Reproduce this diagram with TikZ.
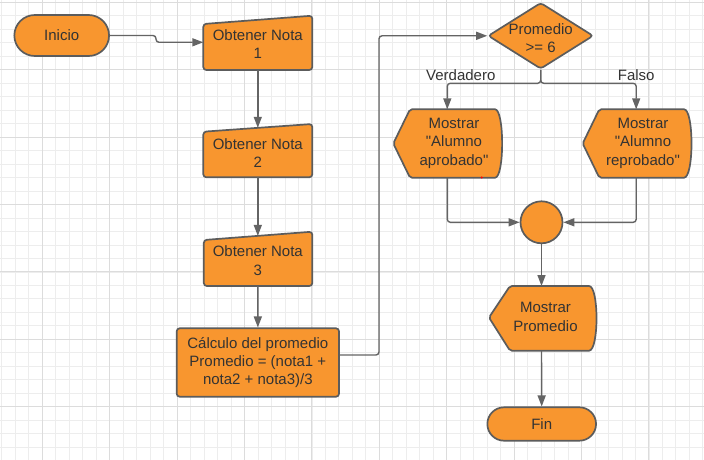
\documentclass[tikz,border=0pt]{standalone}
\usepackage{fontspec}
\setmainfont{Liberation Sans}[Ligatures=TeXOff]
\usetikzlibrary{arrows.meta,shapes.geometric,shapes.misc}
\definecolor{orng}{HTML}{F8962F}
\definecolor{bord}{HTML}{5C5C5C}
\definecolor{conn}{HTML}{646464}
\definecolor{txtc}{HTML}{333333}
\definecolor{gminor}{HTML}{EDEDED}
\definecolor{gmajor}{HTML}{DCDCDC}
\begin{document}
\begin{tikzpicture}[x=1pt,y=-1pt,
  shapebox/.style={fill=orng, draw=bord, line width=1.7pt, rounded corners=3pt},
  txt/.style={text=txtc, font=\fontsize{15}{18.3}\selectfont, align=center, inner sep=0pt},
  term/.style={rounded rectangle, fill=orng, draw=bord, line width=1.7pt, inner sep=0pt, txt},
  conline/.style={draw=conn, line width=1.4pt, rounded corners=3pt, -{Triangle[length=11pt,width=8pt]}},
]
\useasboundingbox (0,0) rectangle (704,460);
\fill[white] (0,0) rectangle (704,460);
% grid
\foreach \i in {0,...,52} { \draw[gminor, line width=0.8pt] ({1.86+\i*13.48},0) -- ++(0,460); }
\foreach \i in {0,...,34} { \draw[gminor, line width=0.8pt] (0,{2.3+\i*13.48}) -- ++(704,0); }
\foreach \i in {0,...,9} { \draw[gmajor, line width=0.9pt] ({42.3+\i*67.4},0) -- ++(0,460); }
\foreach \i in {0,...,6} { \draw[gmajor, line width=0.9pt] (0,{2.3+\i*67.4}) -- ++(704,0); }

% Inicio
\node[term, minimum width=94.7pt, minimum height=41pt] (ini) at (61.7,35.5) {Inicio};

% Obtener Nota 1
\draw[shapebox] (203.3,24) -- (312.3,15.7) -- (312.3,70) -- (203.3,70) -- cycle;
\node[txt] (n1) at (257.8,44.2) {Obtener Nota\\1};
\coordinate (n1in) at (203.3,42.3);
\coordinate (n1out) at (257.8,70);

% Obtener Nota 2
\draw[shapebox] (203.3,131.7) -- (312.3,124) -- (312.3,177.3) -- (203.3,177.3) -- cycle;
\node[txt] (n2) at (257.8,152.8) {Obtener Nota\\2};
\coordinate (n2in) at (257.8,127.8);
\coordinate (n2out) at (257.8,177.3);

% Obtener Nota 3
\draw[shapebox] (203.8,240) -- (312.3,231.7) -- (312.3,286) -- (203.8,286) -- cycle;
\node[txt] (n3) at (257.8,260.5) {Obtener Nota\\3};
\coordinate (n3in) at (257.8,235.9);
\coordinate (n3out) at (257.8,286);

% Calculo
\node[shapebox, rectangle, minimum width=162.3pt, minimum height=68.4pt, txt] (calc) at (257.85,362.5)
  {Cálculo del promedio\\Promedio = (nota1 +\\nota2 + nota3)/3};

% Decision
\node[diamond, shapebox, minimum width=105.3pt, minimum height=66.3pt, inner sep=0pt] (dia) at (540.7,35.8) {};
\node[txt] (diat) at (540.7,37.8) {Promedio\\>= 6};
\coordinate (jog) at (379,35.8);
\coordinate (split) at (540.7,83.3);
\node[txt] (lv) at (460.8,75.3) {Verdadero};
\node[txt] (lf) at (636.2,75.3) {Falso};

% Mostrar aprobado
\draw[shapebox, rounded corners=2pt] (393.3,143.5) -- (410,109.3) -- (493,109.3)
  .. controls (504.5,109.3) and (504.5,177.7) .. (493,177.7) -- (410,177.7) -- cycle;
\node[txt] (aprt) at (454,143.3) {Mostrar\\"Alumno\\aprobado"};
\coordinate (aprin) at (447.3,109.3);
\coordinate (aprout) at (447.3,177.7);

% Mostrar reprobado
\draw[shapebox, rounded corners=2pt] (582.7,143.5) -- (599.3,109.3) -- (682,109.3)
  .. controls (694,109.3) and (694,177.7) .. (682,177.7) -- (599.3,177.7) -- cycle;
\node[txt] (rept) at (643,143.3) {Mostrar\\"Alumno\\reprobado"};
\coordinate (repin) at (636.2,109.3);
\coordinate (repout) at (636.2,177.7);

% red dot
\fill[red] (481.7,177.5) circle (1.2pt);

% Connector circle
\node[circle, shapebox, minimum size=42pt, inner sep=0pt] (jn) at (541.5,222.3) {};

% Mostrar Promedio
\draw[shapebox, rounded corners=2pt] (489,317.5) -- (510,286) -- (587,286)
  .. controls (599,286) and (599,350.7) .. (587,350.7) -- (510,350.7) -- cycle;
\node[txt] (mpt) at (545.5,317) {Mostrar\\Promedio};
\coordinate (mpin) at (541.5,286);
\coordinate (mpout) at (541.5,350.7);

% Fin
\node[term, minimum width=108.7pt, minimum height=33.4pt] (fin) at (541.7,424) {Fin};

% connectors
\draw[conline] (ini.east) -- (156,35.5) |- (n1in);
\draw[conline] (n1out) -- (n2in);
\draw[conline] (n2out) -- (n3in);
\draw[conline] (n3out) -- (calc.north);
\draw[conline] ([yshift=7.5pt]calc.east) -| (jog) -- (dia.west);
\draw[conline] (dia.south) -- (split) -| (aprin);
\draw[conline] (dia.south) -- (split) -| (repin);
\draw[conline] (aprout) |- (jn.west);
\draw[conline] (repout) |- (jn.east);
\draw[conline] (jn.south) -- (mpin);
\draw[conline] (mpout) -- (fin.north);
\end{tikzpicture}
\end{document}
